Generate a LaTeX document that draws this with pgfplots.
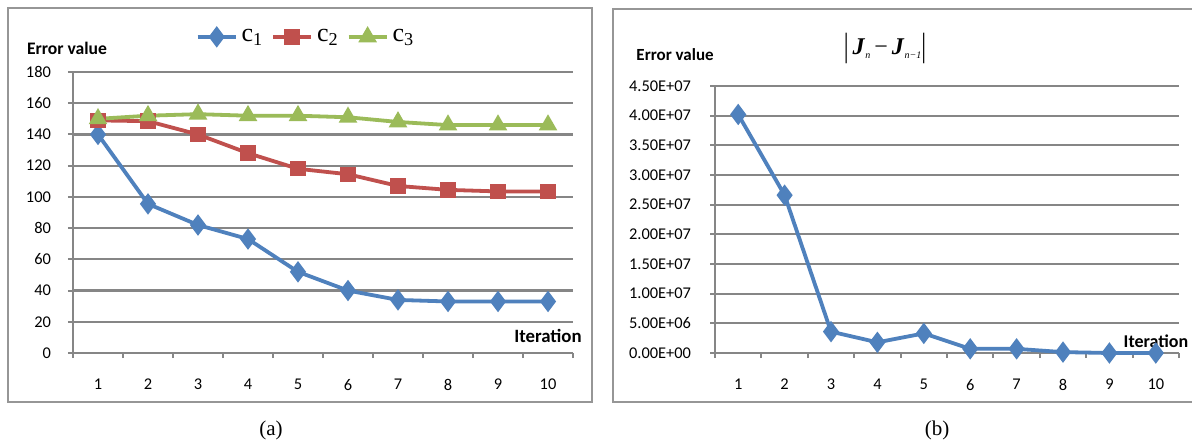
\documentclass[border=0pt]{standalone}
\usepackage{pgfplots}
\pgfplotsset{compat=1.18}
\usepackage{fontspec}
\setmainfont{Carlito}
\newfontfamily\tnr{Liberation Serif}
\definecolor{cblue}{RGB}{79,129,189}
\definecolor{cred}{RGB}{192,80,77}
\definecolor{cgreen}{RGB}{155,187,89}
\definecolor{gline}{RGB}{134,134,134}
\definecolor{fline}{RGB}{150,150,150}
\newcommand{\jsub}[1]{\raisebox{-0.35ex}{\fontsize{5}{5}\selectfont\itshape #1}}
\newcommand{\jform}{{\tnr\fontsize{12}{12}\selectfont\raisebox{-0.15ex}{\scalebox{1}[1.4]{\textbar}}\,\textbf{\textit{J}}\jsub{n}\,−\,\textbf{\textit{J}}\jsub{n−1}\raisebox{-0.15ex}{\scalebox{1}[1.4]{\textbar}}}}
\newcommand{\leg}[1]{{\tnr\fontsize{13}{13}\selectfont c\textsubscript{#1}}}

\pgfplotsset{
  excel/.style={
    scale only axis,
    anchor=south west,
    xmin=0.5, xmax=10.5,
    ymin=0,
    axis x line*=bottom,
    axis y line*=left,
    axis line style={gline, line width=1pt},
    ymajorgrids=true,
    major grid style={gline, line width=1.1pt},
    tick style={gline, line width=1pt},
    major tick length=2.5pt,
    tick align=outside,
    xtick={0.5,1.5,...,10.5},
    xticklabels={},
    extra x ticks={1,2,3,4,5,6,7,8,9,10},
    extra x tick labels={1,2,3,4,5,6,7,8,9,10},
    extra x tick style={major tick length=0pt, grid=none,
      xticklabel style={yshift=-9.5pt}},
    tick label style={font=\fontsize{8.2}{9}\selectfont, text=black},
    /pgf/number format/assume math mode=true,
    clip=false,
  },
  line/.style={line width=1.9pt, mark options={solid}},
}

\begin{document}
\begin{tikzpicture}
\clip (0,0) rectangle (596pt,219.5pt);
\path[fill=white] (0,0) rectangle (596pt,219.5pt);
% frames
\draw[fline, line width=1pt] (4pt,18.5pt) rectangle (296pt,215.5pt);
\draw[fline, line width=1pt] (306.5pt,18.5pt) rectangle (605pt,215pt);

% panel (a)
\begin{axis}[excel,
  at={(36.5pt,43pt)},
  width=250pt, height=140.5pt,
  ymax=180,
  ytick={0,20,...,180},
  yticklabel style={xshift=-5pt},
  legend style={at={(0.468,1.125)}, anchor=center, draw=none, fill=none,
    legend columns=3,
    /tikz/every even column/.append style={column sep=2pt}},
  legend image code/.code={\draw[#1, mark repeat=2, mark phase=2] plot coordinates {(0pt,0pt) (9.5pt,0pt) (19pt,0pt)};},
]
\addplot[line, color=cblue, mark=diamond*, mark size=3.8pt] coordinates {
(1,140) (2,95.5) (3,82) (4,73) (5,52) (6,40) (7,34) (8,33) (9,33) (10,33)};
\addlegendentry{\leg{1}}
\addplot[line, color=cred, mark=square*, mark size=2.9pt] coordinates {
(1,149) (2,148.5) (3,140) (4,128) (5,118) (6,114.5) (7,107) (8,104.5) (9,103.5) (10,103.5)};
\addlegendentry{\leg{2}}
\addplot[line, color=cgreen, mark=triangle*, mark size=3.5pt] coordinates {
(1,150) (2,152) (3,153) (4,152) (5,152) (6,151) (7,148) (8,146) (9,146) (10,146)};
\addlegendentry{\leg{3}}
\node[font=\bfseries\fontsize{8.8}{9}\selectfont, anchor=center] at (rel axis cs:-0.012,1.085) {Error value};
\node[font=\bfseries\fontsize{9.4}{10}\selectfont, anchor=center] at (rel axis cs:0.95,0.06) {Iteration};
\end{axis}

% panel (b)
\begin{axis}[excel,
  at={(357.5pt,43pt)},
  width=232pt, height=133.5pt,
  ymax=4.5e7,
  ytick={0,5e6,1e7,1.5e7,2e7,2.5e7,3e7,3.5e7,4e7,4.5e7},
  yticklabels={0.00E+00,5.00E+06,1.00E+07,1.50E+07,2.00E+07,2.50E+07,3.00E+07,3.50E+07,4.00E+07,4.50E+07},
  yticklabel style={xshift=-6pt},
  scaled y ticks=false,
]
\addplot[line, color=cblue, mark=diamond*, mark size=3.8pt] coordinates {
(1,4.02e7) (2,2.66e7) (3,3.6e6) (4,1.8e6) (5,3.3e6) (6,7e5) (7,7e5) (8,1.5e5) (9,0) (10,0)};
\node[font=\bfseries\fontsize{8.5}{9}\selectfont, anchor=center] at (rel axis cs:-0.086,1.116) {Error value};
\node[font=\bfseries\fontsize{9}{10}\selectfont, anchor=west, inner sep=0pt] at (rel axis cs:0.880,0.045) {Iteration};
\end{axis}

% formula and captions
\node[anchor=center] at (442.5pt,195.5pt) {\jform};
\node[font=\tnr\fontsize{10.5}{12}\selectfont] at (135.5pt,4.5pt) {(a)};
\node[font=\tnr\fontsize{10.5}{12}\selectfont] at (468.5pt,4.5pt) {(b)};
\end{tikzpicture}
\end{document}
